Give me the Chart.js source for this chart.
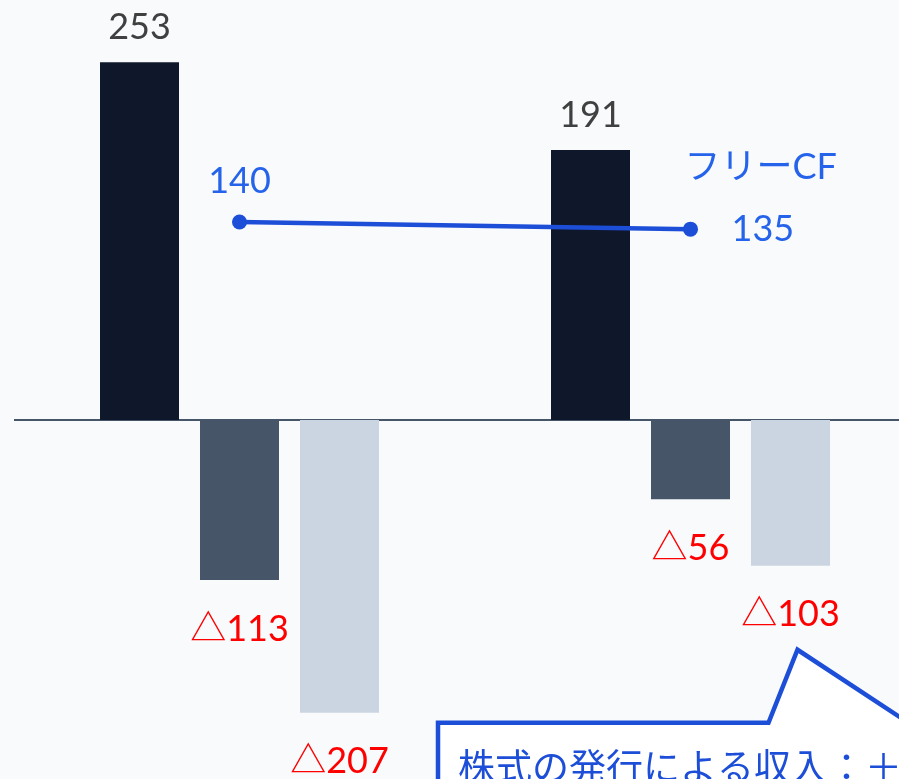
<!DOCTYPE html>
<html lang="ja">
<head>
<meta charset="UTF-8">
<title>キャッシュフロー推移</title>
<script src="https://cdn.jsdelivr.net/npm/chart.js@4"></script>
<style>
  html, body { margin: 0; padding: 0; background: #f8fafc; overflow: hidden; }
  #cf-chart { position: absolute; left: 0; top: 0; }
</style>
</head>
<body>
<canvas id="cf-chart" width="940" height="1000"></canvas>
<script>
// data
const periods = ['前期', '当期'];
const operatingCF = [253, 191];
const investingCF = [-113, -56];
const financingCF = [-207, -103];
const freeCF = [140, 135];
const freeCFLabel = 'フリーCF';
const calloutText = '株式の発行による収入：＋';

const numFont = '36px Lato, "Noto Sans CJK JP", sans-serif';
const lineBlue = '#1d4ed8';

// negative values are shown with a triangle, Japanese accounting style
function fmt(v) {
    return v < 0 ? '△' + Math.abs(v) : String(v);
}

const zeroLine = {
    id: 'zeroLine',
    beforeDatasetsDraw(chart) {
        const { ctx, chartArea, scales } = chart;
        const y = scales.y.getPixelForValue(0);
        ctx.save();
        ctx.strokeStyle = '#475569';
        ctx.lineWidth = 2;
        ctx.beginPath();
        ctx.moveTo(chartArea.left, y);
        ctx.lineTo(chart.width, y);
        ctx.stroke();
        ctx.restore();
    }
};

const valueLabels = {
    id: 'valueLabels',
    afterDatasetsDraw(chart) {
        const ctx = chart.ctx;
        ctx.save();
        ctx.font = numFont;
        ctx.textBaseline = 'middle';
        chart.data.datasets.forEach((ds, i) => {
            const meta = chart.getDatasetMeta(i);
            if (ds.type === 'line') {
                const p0 = meta.data[0], p1 = meta.data[1];
                ctx.fillStyle = '#2563eb';
                ctx.textAlign = 'center';
                ctx.fillText(fmt(ds.data[0]), p0.x, p0.y - 41);
                ctx.textAlign = 'left';
                ctx.fillText(fmt(ds.data[1]), p1.x + 41, p1.y);
                ctx.fillText(ds.label, p1.x - 6, p1.y - 62);
                return;
            }
            meta.data.forEach((bar, j) => {
                const v = ds.data[j];
                ctx.textAlign = 'center';
                if (v >= 0) {
                    ctx.fillStyle = '#404040';
                    ctx.fillText(fmt(v), bar.x, bar.y - 35);
                } else {
                    ctx.fillStyle = '#ff0000';
                    ctx.fillText(fmt(v), bar.x, bar.y + 49);
                }
            });
        });
        ctx.restore();
    }
};

// speech-bubble note pointing at the latest financing CF label
const callout = {
    id: 'callout',
    afterDraw(chart) {
        const ctx = chart.ctx;
        const bar = chart.getDatasetMeta(2).data[1];
        const tipX = bar.x + 7, tipY = bar.y + 84;
        const top = tipY + 73, left = 438;
        ctx.save();
        ctx.beginPath();
        ctx.moveTo(left, chart.height + 10);
        ctx.lineTo(left, top);
        ctx.lineTo(tipX - 29, top);
        ctx.lineTo(tipX, tipY);
        ctx.lineTo(tipX + 111, top);
        ctx.lineTo(chart.width + 20, top);
        ctx.lineTo(chart.width + 20, chart.height + 10);
        ctx.closePath();
        ctx.fillStyle = '#ffffff';
        ctx.fill();
        ctx.strokeStyle = lineBlue;
        ctx.lineWidth = 4.5;
        ctx.lineJoin = 'miter';
        ctx.stroke();
        ctx.fillStyle = lineBlue;
        ctx.font = '37px "Noto Sans CJK JP", sans-serif';
        ctx.textAlign = 'left';
        ctx.textBaseline = 'middle';
        ctx.fillText(calloutText, left + 20, top + 44);
        ctx.restore();
    }
};

new Chart(document.getElementById('cf-chart'), {
    type: 'bar',
    data: {
        labels: periods,
        datasets: [
            { label: '営業CF', data: operatingCF, backgroundColor: '#0f172a', order: 1 },
            { label: '投資CF', data: investingCF, backgroundColor: '#475569', order: 1 },
            { label: '財務CF', data: financingCF, backgroundColor: '#cbd5e1', order: 1 },
            {
                type: 'line',
                label: freeCFLabel,
                data: freeCF,
                borderColor: lineBlue,
                borderWidth: 4.5,
                pointRadius: 7.5,
                pointBackgroundColor: lineBlue,
                pointBorderWidth: 0,
                order: 0
            }
        ]
    },
    options: {
        responsive: false,
        animation: false,
        categoryPercentage: 300 / 451,
        barPercentage: 0.79,
        layout: { autoPadding: false, padding: { left: 14, right: 24, top: 0, bottom: 0 } },
        scales: {
            x: { display: false },
            y: { display: false, min: -410, max: 297 }
        },
        plugins: {
            legend: { display: false },
            tooltip: { enabled: false }
        }
    },
    plugins: [zeroLine, valueLabels, callout]
});
</script>
</body>
</html>
